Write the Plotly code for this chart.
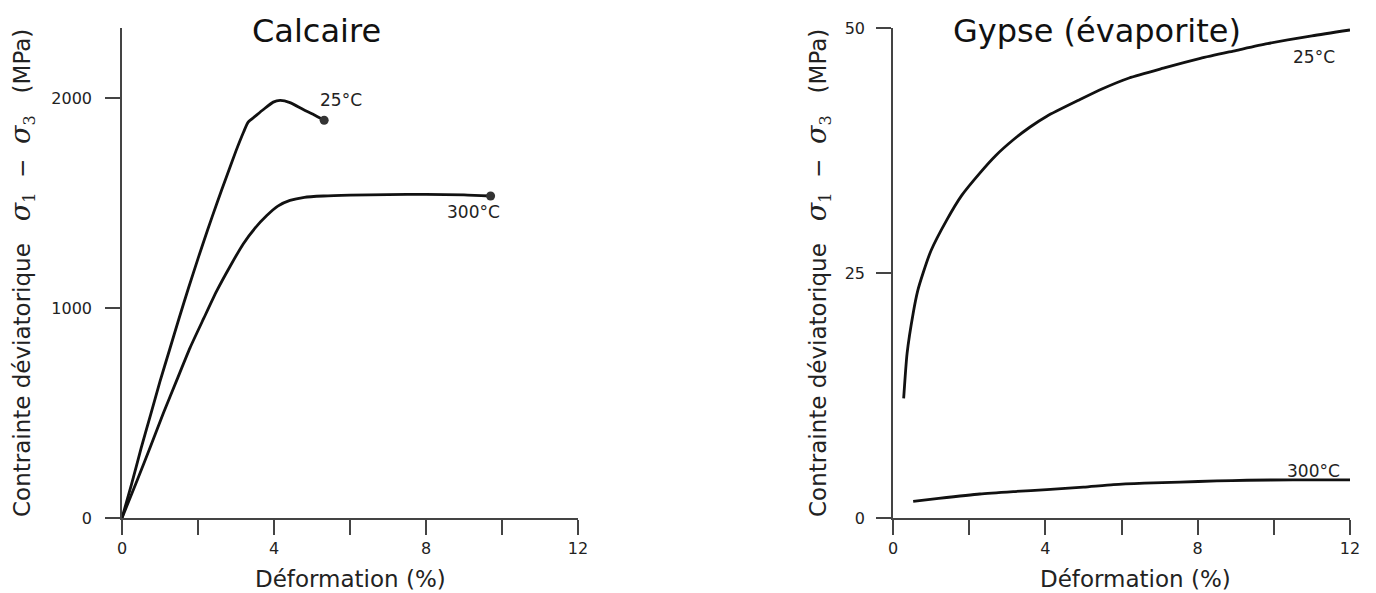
import plotly.graph_objects as go

# ---------------- data ----------------
calc_25_x = [0, 0.25, 0.5, 0.75, 1.0, 1.25, 1.5, 1.75, 2.0, 2.25, 2.5, 2.75, 3.0, 3.2, 3.32,
             3.5, 3.72, 3.98, 4.16, 4.42, 4.77, 5.05, 5.32]
calc_25_y = [0, 160, 330, 490, 650, 800, 950, 1095, 1235, 1370, 1500, 1625, 1748, 1838, 1885,
             1912, 1945, 1980, 1988, 1978, 1945, 1920, 1894]

calc_300_x = [0, 0.4, 0.75, 1.09, 1.45, 1.79, 2.15, 2.49, 2.85, 3.19, 3.5, 3.81, 4.1, 4.42,
              4.8, 5.3, 6.0, 7.0, 8.0, 9.0, 9.7]
calc_300_y = [0, 180, 340, 500, 660, 810, 950, 1080, 1200, 1305, 1380, 1440, 1485, 1512,
              1527, 1533, 1537, 1540, 1541, 1538, 1533]

gyp_25_x = [0.28, 0.37, 0.53, 0.65, 0.79, 1.0, 1.41, 1.8, 2.28, 2.7, 3.16, 3.6, 4.04, 4.91,
            5.5, 6.2, 7.1, 8.07, 9.0, 9.83, 11.0, 12.0]
gyp_25_y = [12.2, 16.8, 20.9, 23.2, 25.0, 27.3, 30.4, 32.9, 35.2, 37.0, 38.6, 39.9, 41.0, 42.7,
            43.8, 44.9, 45.9, 46.9, 47.7, 48.4, 49.2, 49.8]

gyp_300_x = [0.53, 1.2, 2.28, 3.2, 4.04, 5.0, 5.79, 6.6, 7.54, 8.5, 9.3, 10.5, 12.0]
gyp_300_y = [1.7, 2.0, 2.45, 2.7, 2.9, 3.15, 3.4, 3.55, 3.67, 3.78, 3.85, 3.9, 3.9]

x_major_ticks = [0, 4, 8, 12]
x_minor_step = 2
calc_yticks = [0, 1000, 2000]
gyp_yticks = [0, 25, 50]

titles = ["Calcaire", "Gypse (évaporite)"]
temp_labels = ["25°C", "300°C"]
x_title = "Déformation (%)"
sig = '<span style="font-family:DejaVu Serif;font-size:27px"><i>σ</i></span>'
sub = '<span style="font-family:DejaVu Serif">{}</span>'
nb = "\u00a0"
y_title = ("Contrainte déviatorique" + nb * 3 + sig + "<sub>" + sub.format("1") + "</sub>" +
           nb * 2 + "\u2212" + nb * 2 + sig + "<sub>" + sub.format("3") + "</sub>" + nb * 3 + "(MPa)")

# ---------------- layout geometry ----------------
W, H = 1376, 593
FONT = "DejaVu Sans"
LINE = "#111111"
AX = "#444444"


def px_x(p):
    return p / W


def px_y(p):
    return (H - p) / H


fig = go.Figure()

line_style = dict(color=LINE, width=2.8, shape="spline", smoothing=0.6)

fig.add_trace(go.Scatter(x=calc_25_x, y=calc_25_y, mode="lines", line=line_style,
                         xaxis="x", yaxis="y", showlegend=False, hoverinfo="skip"))
fig.add_trace(go.Scatter(x=calc_300_x, y=calc_300_y, mode="lines", line=line_style,
                         xaxis="x", yaxis="y", showlegend=False, hoverinfo="skip"))
fig.add_trace(go.Scatter(x=[calc_25_x[-1], calc_300_x[-1]], y=[calc_25_y[-1], calc_300_y[-1]],
                         mode="markers", marker=dict(color="#333333", size=9),
                         xaxis="x", yaxis="y", showlegend=False, hoverinfo="skip"))
fig.add_trace(go.Scatter(x=gyp_25_x, y=gyp_25_y, mode="lines", line=line_style,
                         xaxis="x2", yaxis="y2", showlegend=False, hoverinfo="skip"))
fig.add_trace(go.Scatter(x=gyp_300_x, y=gyp_300_y, mode="lines", line=line_style,
                         xaxis="x2", yaxis="y2", showlegend=False, hoverinfo="skip"))

axis_common = dict(showline=True, linecolor=AX, linewidth=1.5, ticks="outside", ticklen=15,
                   tickwidth=1.5, tickcolor=AX, showgrid=False, zeroline=False,
                   tickfont=dict(family=FONT, size=16, color="#222222"), automargin=False)
minor_x = dict(dtick=x_minor_step, tick0=0, ticks="outside", ticklen=15, tickwidth=1.5,
               tickcolor=AX, showgrid=False)

dom_y = [px_y(518), px_y(28)]

fig.update_layout(
    width=W, height=H,
    margin=dict(l=0, r=0, t=0, b=0),
    paper_bgcolor="white", plot_bgcolor="white",
    font=dict(family=FONT, color="#222222"),
    xaxis=dict(domain=[px_x(122), px_x(578)], range=[0, 12], tickmode="array",
               tickvals=x_major_ticks, minor=minor_x, anchor="y", **axis_common),
    yaxis=dict(domain=dom_y, range=[0, 2333], tickmode="array", tickvals=calc_yticks,
               anchor="x", ticklabelstandoff=10, **axis_common),
    xaxis2=dict(domain=[px_x(893), px_x(1350)], range=[0, 12], tickmode="array",
                tickvals=x_major_ticks, minor=minor_x, anchor="y2", **axis_common),
    yaxis2=dict(domain=dom_y, range=[0, 50], tickmode="array", tickvals=gyp_yticks,
                anchor="x2", ticklabelstandoff=8, **axis_common),
)

ann = []
# titles
ann.append(dict(text=titles[0], x=px_x(316), y=px_y(31), xref="paper", yref="paper",
                xanchor="center", yanchor="middle", showarrow=False,
                font=dict(family=FONT, size=32, color="#111111")))
ann.append(dict(text=titles[1], x=px_x(1097), y=px_y(31), xref="paper", yref="paper",
                xanchor="center", yanchor="middle", showarrow=False,
                font=dict(family=FONT, size=32, color="#111111")))
# x titles
for cx in (350, 1135):
    ann.append(dict(text=x_title, x=px_x(cx), y=px_y(579), xref="paper", yref="paper",
                    xanchor="center", yanchor="middle", showarrow=False,
                    font=dict(family=FONT, size=23, color="#222222")))
# y titles
for cx in (22, 818):
    ann.append(dict(text=y_title, x=px_x(cx), y=px_y(273), xref="paper", yref="paper",
                    xanchor="center", yanchor="middle", showarrow=False, textangle=-90,
                    font=dict(family=FONT, size=23, color="#222222")))
# curve labels
lab_font = dict(family=FONT, size=17, color="#222222")
ann.append(dict(text=temp_labels[0], x=5.76, y=1990, xref="x", yref="y", showarrow=False,
                xanchor="center", yanchor="middle", font=lab_font))
ann.append(dict(text=temp_labels[1], x=9.24, y=1457, xref="x", yref="y", showarrow=False,
                xanchor="center", yanchor="middle", font=lab_font))
ann.append(dict(text=temp_labels[0], x=11.05, y=47.0, xref="x2", yref="y2", showarrow=False,
                xanchor="center", yanchor="middle", font=lab_font))
ann.append(dict(text=temp_labels[1], x=11.05, y=4.8, xref="x2", yref="y2", showarrow=False,
                xanchor="center", yanchor="middle", font=lab_font))

fig.update_layout(annotations=ann)

fig.write_html("out.html")
